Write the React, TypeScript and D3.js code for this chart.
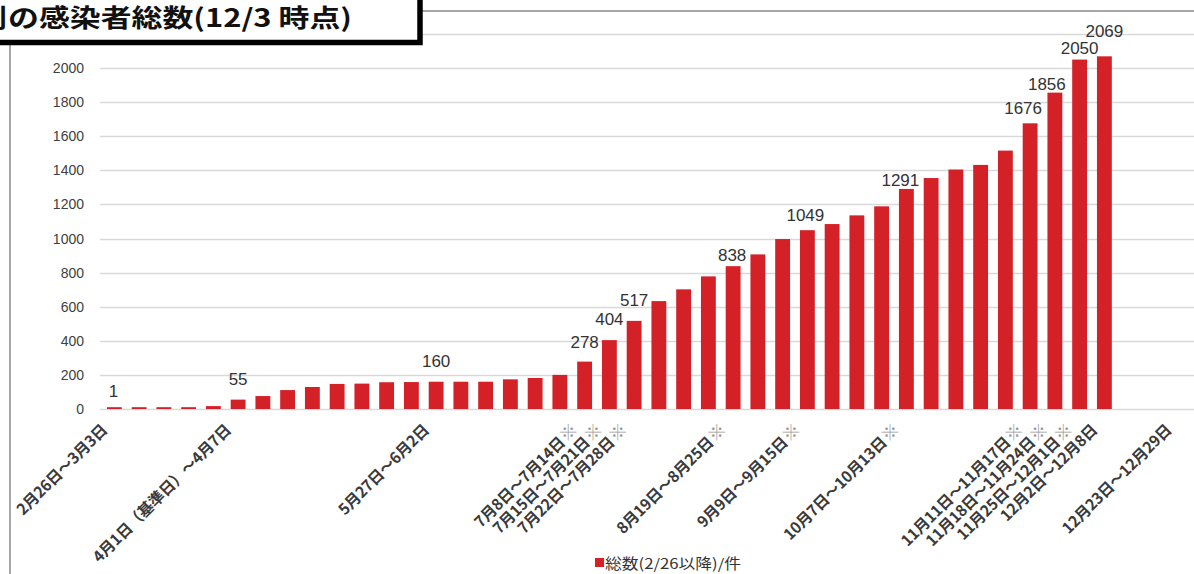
import React from "react";
import * as d3 from "d3";

const categories: string[] = [
  "2月26日～3月3日", "3月4日～3月10日", "3月11日～3月17日", "3月18日～3月24日", "3月25日～3月31日",
  "4月1日（基準日）～4月7日", "4月8日～4月14日", "4月15日～4月21日", "4月22日～4月28日", "4月29日～5月5日",
  "5月6日～5月12日", "5月13日～5月19日", "5月20日～5月26日", "5月27日～6月2日", "6月3日～6月9日",
  "6月10日～6月16日", "6月17日～6月23日", "6月24日～6月30日", "7月1日～7月7日", "7月8日～7月14日※",
  "7月15日～7月21日※", "7月22日～7月28日※", "7月29日～8月4日", "8月5日～8月11日", "8月12日～8月18日",
  "8月19日～8月25日※", "8月26日～9月1日", "9月2日～9月8日", "9月9日～9月15日※", "9月16日～9月22日",
  "9月23日～9月29日", "9月30日～10月6日", "10月7日～10月13日※", "10月14日～10月20日", "10月21日～10月27日",
  "10月28日～11月3日", "11月4日～11月10日", "11月11日～11月17日※", "11月18日～11月24日※", "11月25日～12月1日※",
  "12月2日～12月8日", "12月9日～12月15日", "12月16日～12月22日", "12月23日～12月29日",
];

const totals: number[] = [
  1, 2, 2, 2, 17, 55, 76, 111, 129, 147, 149, 157, 158, 160, 160, 160, 174, 182, 200, 278,
  404, 517, 633, 702, 778, 838, 907, 997, 1049, 1085, 1136, 1189, 1291, 1355, 1405, 1432, 1516, 1676, 1856, 2050, 2069,
];

const shownTickIndices: number[] = [0, 5, 13, 19, 20, 21, 25, 28, 32, 37, 38, 39, 40, 43];
const labeledBars: number[] = [0, 5, 13, 19, 20, 21, 25, 28, 32, 37, 38, 39, 40];
const yTicks: number[] = [0, 200, 400, 600, 800, 1000, 1200, 1400, 1600, 1800, 2000];
const yMax = 2200;

const titleText = "の感染者総数(12/3 時点)";
const legendText = "総数(2/26以降)/件";

// label placement tweaks (layout only): [dx, gap above bar]
const labelAdjust: Record<number, [number, number]> = {
  0: [-1, 12], 5: [0, 15], 13: [0, 15], 19: [0, 14], 20: [0, 15], 21: [0, 15],
  25: [-1, 5], 28: [-2, 9], 32: [-6, 3], 37: [-7, 9], 38: [-8, 3], 39: [0, 6], 40: [0, 19],
};

const W = 1194;
const H = 574;
const BAR = "#d42027";

export default function App() {
  const x = d3.scaleBand<number>().domain(d3.range(categories.length)).range([102, 1191]).paddingInner(0.4).paddingOuter(0.2);
  const y = d3.scaleLinear().domain([0, yMax]).range([409, 34]);
  const cx = (i: number) => (x(i) as number) + x.bandwidth() / 2;

  return (
    <svg width={W} height={H} style={{ position: "absolute", left: 0, top: 0, background: "#fff" }}>
      <rect x={0} y={0} width={W} height={H} fill="#fff" />
      {/* chart border */}
      <line x1={10} y1={11} x2={W} y2={11} stroke="#8a8a8a" strokeWidth={1.5} />
      <line x1={10} y1={11} x2={10} y2={H} stroke="#8a8a8a" strokeWidth={1.5} />

      {/* gridlines */}
      {[...yTicks, yMax].map((t) => (
        <line key={t} x1={100} x2={W} y1={Math.round(y(t)) + 0.5} y2={Math.round(y(t)) + 0.5} stroke="#d9d9d9" strokeWidth={1.5} />
      ))}

      {/* y tick labels */}
      {yTicks.map((t) => (
        <text key={t} x={84} y={y(t) + 5} textAnchor="end" fontFamily="'Liberation Sans', Arial, sans-serif" fontSize={14} fill="#404040">
          {t}
        </text>
      ))}

      {/* bars */}
      {totals.map((v, i) => {
        const h = Math.max(1.8, 409 - y(v));
        return <rect key={i} x={x(i)} y={409 - h} width={x.bandwidth()} height={h} fill={BAR} />;
      })}

      {/* data labels */}
      {labeledBars.map((i) => {
        const [dx, gap] = labelAdjust[i] || [0, 8];
        return (
          <text key={i} x={cx(i) + dx} y={y(totals[i]) - gap} textAnchor="middle" fontFamily="'Liberation Sans', Arial, sans-serif" fontSize={17} fill="#333">
            {totals[i]}
          </text>
        );
      })}

      {/* x labels */}
      {shownTickIndices.map((i) => {
        const label = categories[i];
        const star = label.endsWith("※");
        const main = star ? label.slice(0, -1) : label;
        const ax = cx(i) - 6;
        const ay = 431;
        return (
          <text key={i} x={ax} y={ay} transform={`rotate(-45 ${ax} ${ay})`} textAnchor="end" fontFamily="'Noto Sans CJK JP', sans-serif" fontWeight="bold" fontSize={15.5} fill="#3a3a3a" letterSpacing={-0.3}>
            {main}
            {star ? <tspan fill="#999" fontWeight="normal" fontSize={17} dx={1}>※</tspan> : null}
          </text>
        );
      })}

      {/* legend */}
      <rect x={595} y={558} width={9} height={9} fill={BAR} />
      <text x={605} y={569} fontFamily="'Noto Sans CJK JP', sans-serif" fontSize={14.5} fill="#333" textLength={136} lengthAdjust="spacingAndGlyphs">{legendText}</text>

      {/* title box */}
      <rect x={-10} y={-10} width={430} height={52.5} fill="#fff" stroke="#000" strokeWidth={5.5} />
      <text x={7} y={27} textAnchor="end" fontFamily="'Noto Sans CJK JP', sans-serif" fontWeight="bold" fontSize={25} fill="#111" transform="translate(7 0) scale(1.2 1) translate(-7 0)">別</text>
      <text x={8} y={27} fontFamily="'Noto Sans CJK JP', sans-serif" fontWeight="bold" fontSize={25} fill="#111" textLength={344} lengthAdjust="spacingAndGlyphs">
        {titleText}
      </text>
    </svg>
  );
}
